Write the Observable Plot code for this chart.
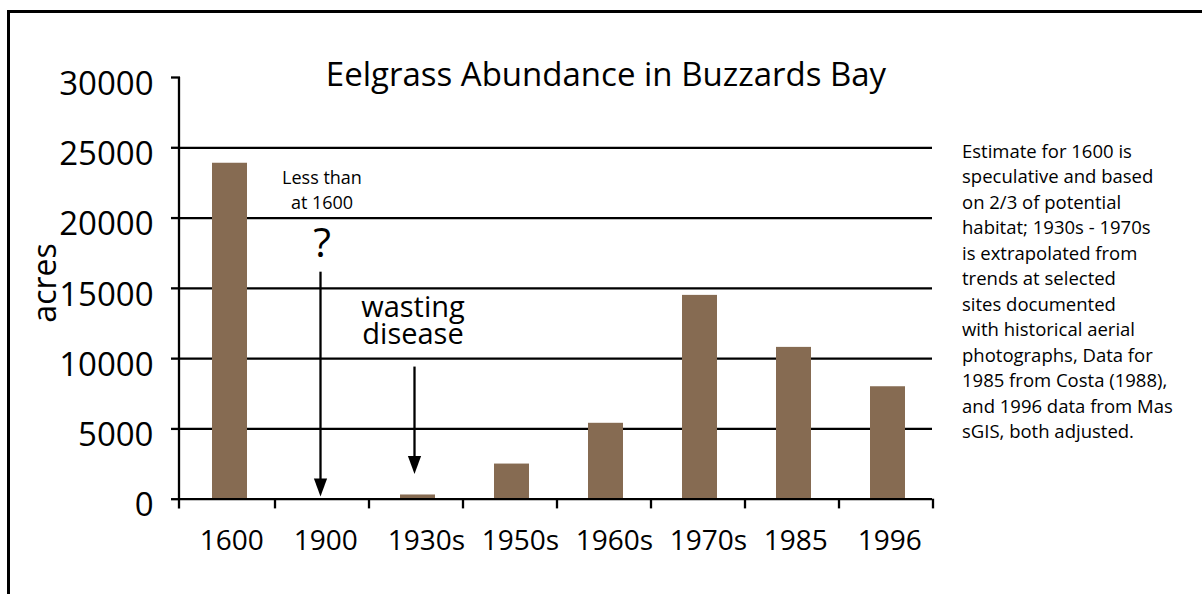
<!DOCTYPE html>
<html><head><meta charset="utf-8">
<script src="https://cdn.jsdelivr.net/npm/d3@7"></script>
<script src="https://cdn.jsdelivr.net/npm/@observablehq/plot@0.6"></script>
<style>
html,body{margin:0;padding:0;background:#fff;}
#wrap{position:relative;width:1202px;height:594px;overflow:hidden;font-family:"Open Sans",sans-serif;color:#000;}
#chart{position:absolute;left:0;top:0;}
#frame{position:absolute;left:7px;top:10px;width:1300px;height:700px;border-left:3px solid #000;border-top:3px solid #000;box-sizing:border-box;pointer-events:none;}
#title{position:absolute;left:0;width:1212px;text-align:center;top:56.7px;font-size:33px;line-height:33px;white-space:nowrap;}
#note{position:absolute;left:962px;top:137.7px;font-size:18.5px;line-height:25.5px;white-space:nowrap;}
</style>
</head>
<body>
<div id="wrap">
  <div id="chart"></div>
  <div id="frame"></div>
  <div id="title"></div>
  <div id="note"></div>
</div>
<script>
// ---- data ----
const periods = ["1600", "1900", "1930s", "1950s", "1960s", "1970s", "1985", "1996"];
const acres = [23900, 0, 300, 2500, 5400, 14500, 10800, 8000];
const yTicks = [0, 5000, 10000, 15000, 20000, 25000, 30000];
const gridTicks = [5000, 10000, 15000, 20000, 25000];

const titleText = "Eelgrass Abundance in Buzzards Bay";
const yLabel = "acres";
const noteLines = [
  "Estimate for 1600 is",
  "speculative and based",
  "on 2/3 of potential",
  "habitat; 1930s - 1970s",
  "is extrapolated from",
  "trends at selected",
  "sites documented",
  "with historical aerial",
  "photographs, Data for",
  "1985 from Costa (1988),",
  "and 1996 data from Mas",
  "sGIS, both adjusted."
];

// annotations (anchored in data coordinates)
const smallNoteText = ["Less than\nat 1600"];
const smallNotePeriod = ["1900"];
const smallNoteAcres = [20660];
const questionText = ["?"];
const questionPeriod = ["1900"];
const questionAcres = [18150];
const diseaseText = ["wasting\ndisease"];
const diseasePeriod = ["1930s"];
const diseaseAcres = [11055];
const arrowPeriod = ["1900", "1930s"];
const arrowFrom = [16150, 9400];
const arrowTo = [200, 1800];

// ---- layout ----
const W = 1202, H = 594;
const mL = 180, mR = 270, mT = 77, mB = 95.3;
const step = (W - mL - mR) / periods.length;
const barColor = "#866b52";
const lw = 2.3;

const data = periods.map((p, i) => ({period: p, acres: acres[i]}));
const idx = (arr) => arr.map((_, i) => i);

const arrowHead = {
  draw(ctx) {
    ctx.moveTo(0, 0);
    ctx.lineTo(-6.6, -18);
    ctx.lineTo(6.6, -18);
    ctx.closePath();
  }
};

const chart = Plot.plot({
  width: W, height: H,
  marginLeft: mL, marginRight: mR, marginTop: mT, marginBottom: mB,
  x: {type: "band", domain: periods, paddingInner: 0.628, paddingOuter: 0.314, axis: null},
  y: {domain: [0, 30000]},
  style: {fontFamily: '"Open Sans", sans-serif', background: "none", color: "#000", overflow: "visible"},
  marks: [
    Plot.ruleY(gridTicks, {stroke: "#000", strokeWidth: lw}),
    Plot.barY(data, {x: "period", y: "acres", fill: barColor, dx: 2}),
    Plot.ruleY([0], {stroke: "#000", strokeWidth: lw}),
    // x-axis category boundary ticks
    Plot.ruleX(periods.slice(1), {x: d => d, y1: 0, y2: -690, dx: -step / 2, stroke: "#000", strokeWidth: lw}),
    Plot.ruleX(periods.slice(-1), {x: d => d, y1: 0, y2: -690, dx: step / 2, stroke: "#000", strokeWidth: lw}),
    // y-axis line
    Plot.ruleX(periods.slice(0, 1), {x: d => d, y1: -690, y2: 30000, dx: -step / 2 - 2, stroke: "#000", strokeWidth: lw}),
    // y ticks
    Plot.axisY(yTicks, {tickSize: 9, stroke: "#000", strokeWidth: lw, fill: "none", label: null}),
    // y tick labels
    Plot.text(yTicks, {y: d => d, text: d => String(d), frameAnchor: "left", textAnchor: "end", lineAnchor: "middle", dx: -27, dy: 6.7, fontSize: 33, fill: "#000"}),
    // x tick labels
    Plot.text(periods, {x: d => d, text: d => d, frameAnchor: "bottom", textAnchor: "start", lineAnchor: "middle", dx: -28.3, dy: 42.3, fontSize: 28, fill: "#000"}),
    // y axis title
    Plot.text([yLabel], {text: d => d, frameAnchor: "left", textAnchor: "middle", lineAnchor: "middle", rotate: -90, dx: -134.7, dy: -5.4, fontSize: 32, fill: "#000"}),
    // annotations
    Plot.text(idx(smallNoteText), {x: i => smallNotePeriod[i], y: i => smallNoteAcres[i], text: i => smallNoteText[i], lineAnchor: "bottom", lineHeight: 1.389, fontSize: 18, fill: "#000"}),
    Plot.text(idx(questionText), {x: i => questionPeriod[i], y: i => questionAcres[i], text: i => questionText[i], lineAnchor: "middle", fontSize: 41, fill: "#000"}),
    Plot.text(idx(diseaseText), {x: i => diseasePeriod[i], y: i => diseaseAcres[i], text: i => diseaseText[i], lineAnchor: "bottom", lineHeight: 0.93, fontSize: 29, fill: "#000", dx: -3}),
    // arrows
    Plot.ruleX(idx(arrowPeriod), {x: i => arrowPeriod[i], y1: i => arrowFrom[i], y2: i => arrowTo[i] + 600, stroke: "#000", strokeWidth: lw, dx: -1.5}),
    Plot.dot(idx(arrowPeriod), {x: i => arrowPeriod[i], y: i => arrowTo[i], symbol: arrowHead, r: 5, fill: "#000", stroke: "none", dx: -1.5})
  ]
});
document.getElementById("chart").appendChild(chart);
document.getElementById("title").textContent = titleText;
document.getElementById("note").innerHTML = noteLines.map(s => s.replace(/&/g, "&amp;").replace(/</g, "&lt;")).join("<br>");
</script>
</body></html>
